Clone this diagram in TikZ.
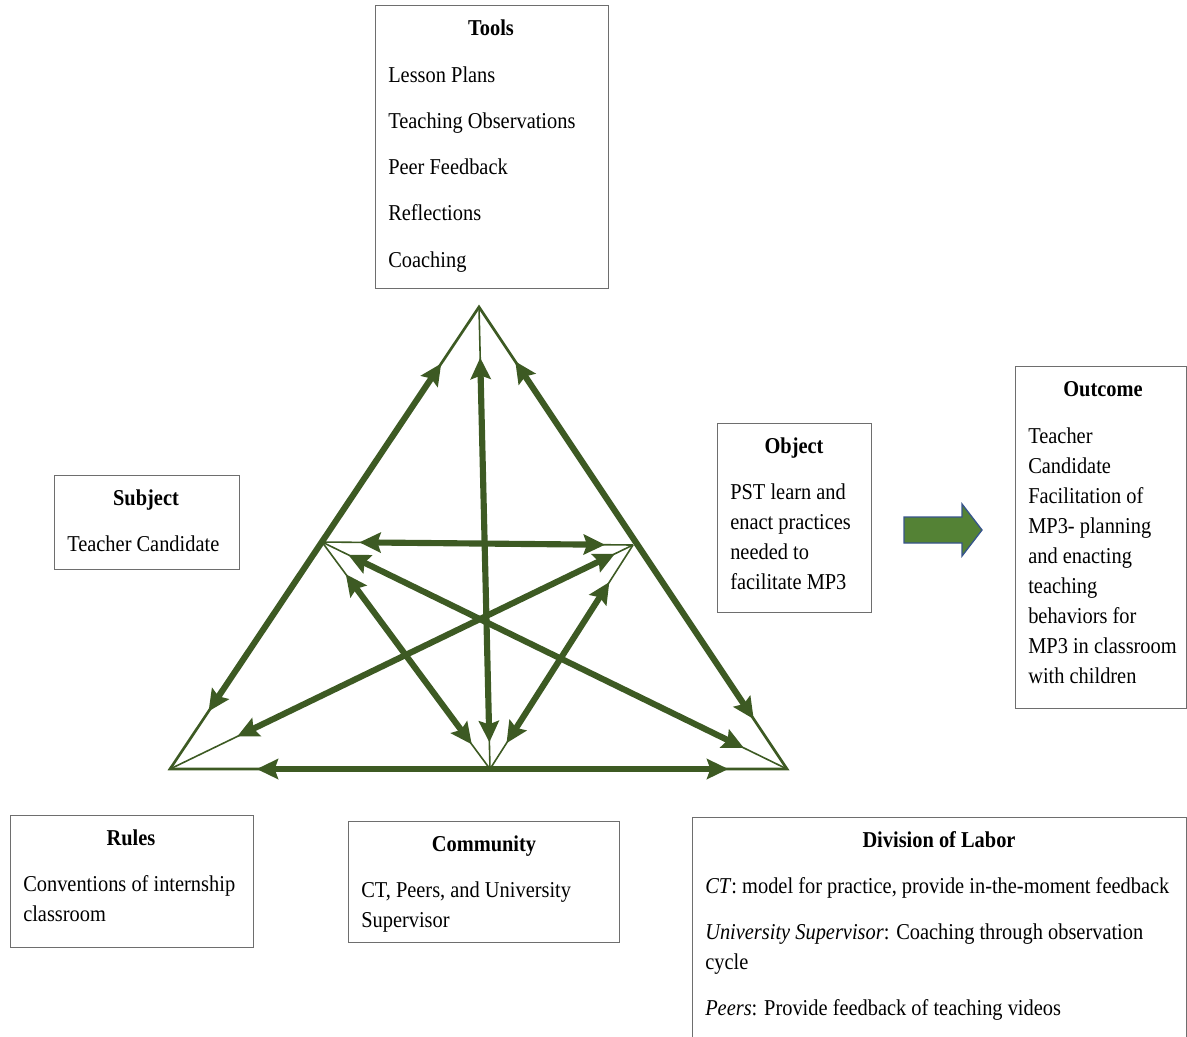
\documentclass[tikz,border=0pt]{standalone}
\usepackage{fontspec}
\setmainfont{Liberation Serif}[FakeStretch=0.9]
\usetikzlibrary{arrows.meta,calc}
\definecolor{tri}{RGB}{61,90,35}
\definecolor{boxline}{RGB}{110,110,110}
\definecolor{bigfill}{RGB}{84,130,53}
\definecolor{bigline}{RGB}{55,85,140}

\begin{document}
\begin{tikzpicture}[x=0.75pt,y=-0.75pt,
  frame/.style={draw=boxline,line width=0.7pt},
  txt/.style={inner sep=0pt,anchor=base west,font=\fontsize{17}{22}\selectfont},
  ttl/.style={inner sep=0pt,anchor=base,font=\fontsize{17}{22}\selectfont\bfseries},
  rim/.style={draw=tri,line width=2pt,line join=miter},
  link/.style={draw=tri,line width=1.2pt},
  dbl/.style={draw=tri,line width=4.6pt,
    {Stealth[length=16pt,width=15pt,inset=2.5pt]}-{Stealth[length=16pt,width=15pt,inset=2.5pt]}},
]
\useasboundingbox (0,0) rectangle (1187,1036);

% ---- triangle vertices and side midpoints
\coordinate (T)  at (479,307);
\coordinate (L)  at (170,769);
\coordinate (R)  at (787,769);
\coordinate (M)  at (490,769);
\coordinate (LM) at (322,542);
\coordinate (RM) at (633,545);

% thin guide lines
\draw[rim] (T) -- (L) -- (R) -- cycle;
\draw[link] (T) -- (M);
\draw[link] (LM) -- (RM);
\draw[link] (LM) -- (R);
\draw[link] (RM) -- (L);
\draw[link] (LM) -- (M);
\draw[link] (RM) -- (M);

% thick double-headed arrows
\draw[dbl, shorten <=51pt, shorten >=52pt] (T) -- (L);
\draw[dbl, shorten <=49pt, shorten >=45pt] (T) -- (R);
\draw[dbl, shorten <=65pt, shorten >=44pt] (L) -- (R);
\draw[dbl, shorten <=38pt, shorten >=20pt] (T) -- (M);
\draw[dbl, shorten <=28pt, shorten >=21pt] (LM) -- (RM);
\draw[dbl, shorten <=22pt, shorten >=36pt] (LM) -- (R);
\draw[dbl, shorten <=15pt, shorten >=56pt] (RM) -- (L);
\draw[dbl, shorten <=30pt, shorten >=23pt] (LM) -- (M);
\draw[dbl, shorten <=33pt, shorten >=23pt] (RM) -- (M);

% ---- block arrow towards the outcome
\draw[fill=bigfill, draw=bigline, line width=1pt, line join=miter]
  (904,517) -- (962,517) -- (962,504) -- (982,530) -- (962,556) -- (962,543) -- (904,543) -- cycle;

% ---- Tools
\draw[frame] (375,5) rectangle (608,288);
\node[ttl] (toolsT) at (491,35) {Tools};
\foreach \t [count=\i from 0] in {Lesson Plans, Teaching Observations, Peer Feedback, Reflections, Coaching}
  \node[txt] (tools\i) at (388,82+46.25*\i) {\t};

% ---- Subject
\draw[frame] (54,475) rectangle (239,569);
\node[ttl] (subjT) at (146,505) {Subject};
\node[txt] (subj0) at (67,551) {Teacher Candidate};

% ---- Object
\draw[frame] (717,423) rectangle (871,612);
\node[ttl] (objT) at (794,453) {Object};
\foreach \t [count=\i from 0] in {PST learn and, enact practices, needed to, facilitate MP3}
  \node[txt] (obj\i) at (730,499+30*\i) {\t};

% ---- Outcome
\draw[frame] (1015,366) rectangle (1186,708);
\node[ttl] (outT) at (1103,396) {Outcome};
\foreach \t [count=\i from 0] in {Teacher, Candidate, Facilitation of, MP3- planning, and enacting, teaching, behaviors for, MP3 in classroom, with children}
  \node[txt] (out\i) at (1028,443+30*\i) {\t};

% ---- Rules
\draw[frame] (10,815) rectangle (253,947);
\node[ttl] (rulesT) at (131,845) {Rules};
\node[txt] (rules0) at (23,891) {Conventions of internship};
\node[txt] (rules1) at (23,921) {classroom};

% ---- Community
\draw[frame] (348,821) rectangle (619,942);
\node[ttl] (commT) at (484,851) {Community};
\node[txt] (comm0) at (361,897) {CT, Peers, and University};
\node[txt] (comm1) at (361,927) {Supervisor};

% ---- Division of Labor
\draw[frame] (692,817) rectangle (1186,1045);
\node[ttl] (divT) at (939,847) {Division of Labor};
\node[txt] (div0) at (705,893) {\textit{CT}: model for practice, provide in-the-moment feedback};
\node[txt] (div1) at (705,939) {\textit{University Supervisor}: Coaching through observation};
\node[txt] (div2) at (705,969) {cycle};
\node[txt] (div3) at (705,1015) {\textit{Peers}: Provide feedback of teaching videos};
\end{tikzpicture}
\end{document}
